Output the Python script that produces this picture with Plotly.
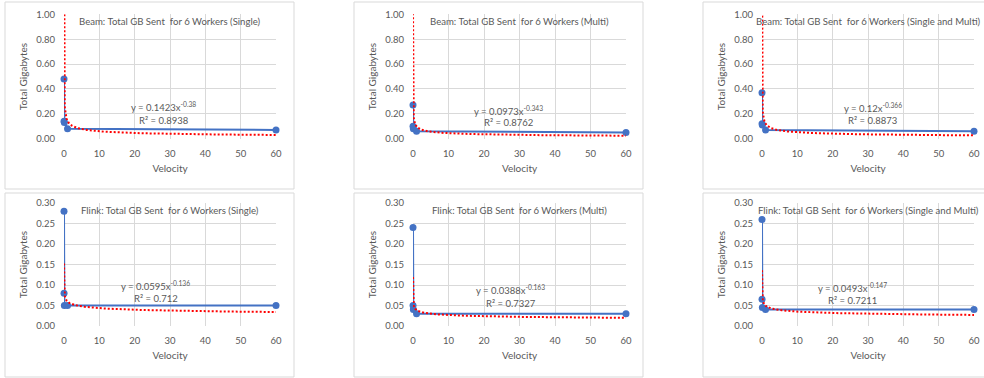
import plotly.graph_objects as go
import numpy as np

# ---------------- data ----------------
velocity = [0.001, 0.01, 0.1, 1, 60]

beam_single = [0.48, 0.14, 0.13, 0.08, 0.07]
beam_multi = [0.27, 0.10, 0.08, 0.06, 0.05]
beam_both = [0.37, 0.12, 0.11, 0.07, 0.06]
flink_single = [0.28, 0.08, 0.05, 0.05, 0.05]
flink_multi = [0.24, 0.05, 0.04, 0.03, 0.03]
flink_both = [0.26, 0.065, 0.045, 0.04, 0.04]

# power trendline coefficients shown on chart: y = a * x^b
fit_a = [0.1423, 0.0973, 0.12, 0.0595, 0.0388, 0.0493]
fit_b = [-0.38, -0.343, -0.366, -0.136, -0.163, -0.147]
fit_r2 = ["0.8938", "0.8762", "0.8873", "0.712", "0.7327", "0.7211"]
fit_a_txt = ["0.1423", "0.0973", "0.12", "0.0595", "0.0388", "0.0493"]
fit_b_txt = ["-0.38", "-0.343", "-0.366", "-0.136", "-0.163", "-0.147"]

titles = [
    "Beam: Total GB Sent  for 6 Workers (Single)",
    "Beam: Total GB Sent  for 6 Workers (Multi)",
    "Beam: Total GB Sent  for 6 Workers (Single and Multi)",
    "Flink: Total GB Sent  for 6 Workers (Single)",
    "Flink: Total GB Sent  for 6 Workers (Multi)",
    "Flink: Total GB Sent  for 6 Workers (Single and Multi)",
]
series = [beam_single, beam_multi, beam_both, flink_single, flink_multi, flink_both]
y_max = [1.0, 1.0, 1.0, 0.30, 0.30, 0.30]
y_dtick = [0.2, 0.2, 0.2, 0.05, 0.05, 0.05]
eq_pos = [(28.3, 0.255, 0.15), (26.8, 0.224, 0.128), (31.4, 0.25, 0.15),
          (26.0, 0.10, 0.067), (27.6, 0.088, 0.056), (25.5, 0.095, 0.063)]

x_ticks = [0, 10, 20, 30, 40, 50, 60]

# ---------------- layout geometry ----------------
W, H = 984, 378
plot_x = [(64, 276), (413, 626), (762, 974)]
plot_y = [(14.3, 138.7), (203, 326)]
boxes_x = [(5, 294), (354, 643), (703, 1000)]
boxes_y = [(2, 189), (193, 377)]

FONT = "Lato, Carlito, 'Liberation Sans', sans-serif"
GREY = "#595959"
GRID = "#d9d9d9"
BLUE = "#4472C4"

fig = go.Figure()
layout = dict(
    width=W, height=H,
    margin=dict(l=0, r=0, t=0, b=0, autoexpand=False),
    paper_bgcolor="white", plot_bgcolor="white",
    showlegend=False,
    font=dict(family=FONT, size=9, color=GREY),
)
annotations = []
shapes = []

for i in range(6):
    r, c = divmod(i, 3)
    xa = "xaxis" if i == 0 else f"xaxis{i+1}"
    ya = "yaxis" if i == 0 else f"yaxis{i+1}"
    xr = "x" if i == 0 else f"x{i+1}"
    yr = "y" if i == 0 else f"y{i+1}"
    x0, x1 = plot_x[c]
    y0, y1 = plot_y[r]
    layout[xa] = dict(
        domain=[x0 / W, x1 / W], anchor=yr, range=[0, 60],
        tickvals=x_ticks, showgrid=True, gridcolor=GRID, gridwidth=1,
        zeroline=False, showline=False, ticks="outside", ticklen=6,
        tickcolor="rgba(0,0,0,0)",
        tickfont=dict(size=9.5, color=GREY),
        title=dict(text="Velocity", font=dict(size=10, color=GREY), standoff=6),
        fixedrange=True, automargin=False,
    )
    layout[ya] = dict(
        domain=[1 - y1 / H, 1 - y0 / H], anchor=xr, range=[0, y_max[i]],
        dtick=y_dtick[i], tick0=0, tickformat=".2f",
        showgrid=True, gridcolor=GRID, gridwidth=1,
        zeroline=False, showline=False, ticks="outside", ticklen=6,
        tickcolor="rgba(0,0,0,0)",
        tickfont=dict(size=9.5, color=GREY),
        title=dict(text="Total Gigabytes", font=dict(size=10, color=GREY), standoff=6),
        fixedrange=True, automargin=False,
    )
    # data series
    fig.add_trace(go.Scatter(
        x=velocity, y=series[i], mode="lines+markers",
        line=dict(color=BLUE, width=2),
        marker=dict(color=BLUE, size=7),
        xaxis=xr, yaxis=yr, cliponaxis=False, hoverinfo="skip",
    ))
    # power trendline from displayed coefficients
    xs = np.logspace(np.log10(min(velocity)), np.log10(max(velocity)), 400)
    ys = fit_a[i] * xs ** fit_b[i]
    fig.add_trace(go.Scatter(
        x=xs, y=ys, mode="lines",
        line=dict(color="#FF0000", width=2, dash="2px,2px"),
        xaxis=xr, yaxis=yr, hoverinfo="skip",
    ))
    # chart title
    annotations.append(dict(
        text=titles[i], xref=f"{xr} domain", yref=f"{yr} domain",
        x=0.5, y=1.0, xanchor="center", yanchor="top", showarrow=False,
        font=dict(size=9.6, color=GREY),
    ))
    ex, ey1, ey2 = eq_pos[i]
    annotations.append(dict(
        text=f"y = {fit_a_txt[i]}x<sup>{fit_b_txt[i]}</sup>", xref=xr, yref=yr,
        x=ex, y=ey1, xanchor="center", yanchor="middle", showarrow=False,
        font=dict(size=9.5, color=GREY),
    ))
    annotations.append(dict(
        text=f"R² = {fit_r2[i]}", xref=xr, yref=yr,
        x=ex, y=ey2, xanchor="center", yanchor="middle", showarrow=False,
        font=dict(size=9.5, color=GREY),
    ))
    bx0, bx1 = boxes_x[c]
    by0, by1 = boxes_y[r]
    shapes.append(dict(
        type="rect", xref="paper", yref="paper",
        x0=bx0 / W, x1=bx1 / W, y0=1 - by1 / H, y1=1 - by0 / H,
        line=dict(color=GRID, width=1), fillcolor="rgba(0,0,0,0)", layer="below",
    ))

layout["annotations"] = annotations
layout["shapes"] = shapes
fig.update_layout(**layout)
fig.write_html(
    "out.html",
    config={"displayModeBar": False},
    post_script="document.body.style.margin='0';document.body.style.overflow='hidden';",
)
